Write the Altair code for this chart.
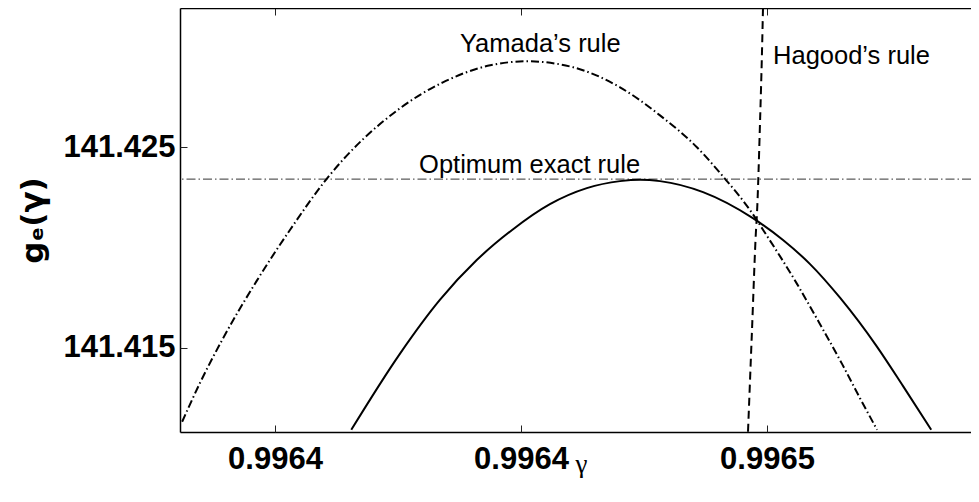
import altair as alt
import pandas as pd

# ---- data ----
yam_x = [0.9963649, 0.9963678, 0.9963714, 0.9963771, 0.9963824, 0.9963885, 0.9964003,
         0.9964073, 0.9964150, 0.9964210, 0.9964285, 0.9964361, 0.9964426, 0.9964486,
         0.9964528, 0.9964577, 0.9964594, 0.9964649, 0.9964686, 0.9964722, 0.9964751,
         0.9964779]
yam_y = [141.41130, 141.41324, 141.41538, 141.41837, 141.42086, 141.42346, 141.42694,
         141.42824, 141.42909, 141.42929, 141.42899, 141.42799, 141.42659, 141.42500,
         141.42356, 141.42166, 141.42086, 141.41817, 141.41618, 141.41419, 141.41249,
         141.41090]

opt_x = [0.9963924, 0.9964003, 0.9964068, 0.9964128, 0.9964185, 0.9964247, 0.9964307,
         0.9964361, 0.9964394, 0.9964426, 0.9964496, 0.9964577, 0.9964626, 0.9964670,
         0.9964719, 0.9964779, 0.9964821, 0.9964867]
opt_y = [141.41090, 141.41469, 141.41738, 141.41937, 141.42086, 141.42216, 141.42296,
         141.42331, 141.42338, 141.42331, 141.42276, 141.42146, 141.42037, 141.41917,
         141.41748, 141.41504, 141.41309, 141.41090]

hag_x = [0.99645691, 0.99645756, 0.99645821, 0.99645837, 0.99645886, 0.99645919, 0.99645935]
hag_y = [141.41080, 141.41588, 141.42086, 141.42171, 141.42620, 141.42983, 141.43198]

opt_level = [141.42341]

x_ticks = [0.99638, 0.99642, 0.99646]
y_ticks = [141.415, 141.425]
x_domain = [0.99636455, 0.99649317]
y_domain = [141.41079, 141.43195]

labels = ["Yamada\u2019s rule", "Optimum exact rule", "Hagood\u2019s rule"]
label_x = [0.99641008, 0.99640342, 0.99646098]
label_y = [141.429733, 141.423705, 141.429136]

# ---- frames ----
df_yam = pd.DataFrame({"x": yam_x, "y": yam_y})
df_opt = pd.DataFrame({"x": opt_x, "y": opt_y})
df_hag = pd.DataFrame({"x": hag_x, "y": hag_y})
df_lvl = pd.DataFrame({"y": opt_level})
df_txt = pd.DataFrame({"x": label_x, "y": label_y, "label": labels})

xs = alt.Scale(domain=x_domain, nice=False, zero=False)
ys = alt.Scale(domain=y_domain, nice=False, zero=False)

LBL = dict(labels=True, labelFont="Liberation Sans", labelFontWeight="bold", labelFontSize=31,
           labelColor="black")

ax_main_x = alt.Axis(orient="bottom", values=x_ticks, format=".4f", ticks=False, tickSize=0,
                     labelPadding=12, domain=True, domainColor="black", domainWidth=1.5,
                     grid=False, title="\u03b3", titleFont="Liberation Serif",
                     titleFontSize=27, titleFontWeight="normal", titleColor="black",
                     titleX=401, titleAlign="center",
                     titleY=40, titleBaseline="alphabetic", **LBL)
ax_main_y = alt.Axis(orient="left", values=y_ticks, format=".3f", ticks=False, tickSize=0,
                     labelPadding=5, domain=True, domainColor="black", domainWidth=1.5,
                     grid=False, title="g\u2091(\u03b3)", titleFont="DejaVu Sans",
                     titleFontWeight="bold", titleFontSize=31, titleColor="black",
                     titleAngle=270, titleX=-147, titleBaseline="middle",
                     titleAlign="center", **LBL)

TICK = dict(ticks=True, tickSize=7, tickColor="#222222", tickWidth=1, labels=False,
            domain=False, grid=False, title=None)
ax_tick_xb = alt.Axis(orient="bottom", values=x_ticks, offset=-7, **TICK)
ax_tick_yl = alt.Axis(orient="left", values=y_ticks, offset=-7, **TICK)
ax_tick_xt = alt.Axis(orient="top", values=x_ticks, offset=-7, **TICK)
ax_top_dom = alt.Axis(orient="top", ticks=False, labels=False, domain=True,
                      domainColor="black", domainWidth=1.5, grid=False, title=None)

yam = alt.Chart(df_yam).mark_line(color="black", strokeWidth=2, strokeDash=[8, 3, 1.5, 3],
                                  clip=True, interpolate="monotone").encode(
    x=alt.X("x:Q", scale=xs, axis=ax_main_x),
    y=alt.Y("y:Q", scale=ys, axis=ax_main_y))

opt = alt.Chart(df_opt).mark_line(color="black", strokeWidth=2, clip=True,
                                  interpolate="monotone").encode(
    x=alt.X("x:Q", scale=xs, axis=ax_tick_xb),
    y=alt.Y("y:Q", scale=ys, axis=ax_tick_yl))

hag = alt.Chart(df_hag).mark_line(color="black", strokeWidth=2, strokeDash=[8, 5],
                                  clip=True, interpolate="monotone").encode(
    x=alt.X("x:Q", scale=xs, axis=ax_tick_xt),
    y=alt.Y("y:Q", scale=ys, axis=None))

lvl = alt.Chart(df_lvl).mark_rule(color="#333333", strokeWidth=1,
                                  strokeDash=[9, 3, 1.5, 3]).encode(
    y=alt.Y("y:Q", scale=ys, axis=None))

txt = alt.Chart(df_txt).mark_text(align="left", baseline="alphabetic", font="Liberation Sans",
                                  fontSize=25.5, color="black").encode(
    x=alt.X("x:Q", scale=xs, axis=ax_top_dom),
    y=alt.Y("y:Q", scale=ys, axis=None),
    text="label:N")

chart = alt.layer(lvl, yam, opt, hag, txt).resolve_axis(
    x="independent", y="independent"
).properties(
    width=791, height=424,
    autosize=alt.AutoSizeParams(type="none"),
    padding={"left": 172, "top": 0, "right": 0, "bottom": 46},
    background="white",
).configure_view(
    stroke=None, strokeWidth=0
).configure_axis(
    domain=False, ticks=False, labels=False, grid=False
)

chart.save("out.html", embed_options={"renderer": "svg", "actions": False})
